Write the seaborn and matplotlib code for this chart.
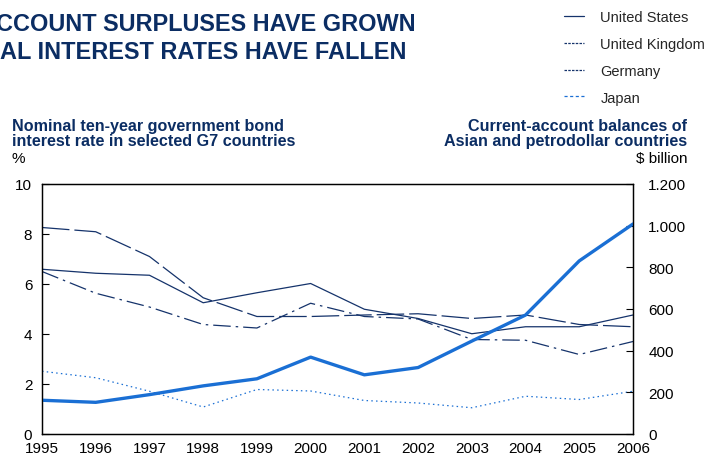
import matplotlib
matplotlib.use("Agg")
import matplotlib.pyplot as plt
import seaborn as sns
import pandas as pd
from matplotlib.lines import Line2D

years = list(range(1995, 2007))
us = [6.59, 6.43, 6.35, 5.25, 5.65, 6.02, 4.99, 4.62, 4.01, 4.29, 4.29, 4.76]
uk = [8.26, 8.09, 7.10, 5.45, 4.70, 4.70, 4.76, 4.81, 4.62, 4.76, 4.38, 4.29]
germany = [6.50, 5.63, 5.08, 4.38, 4.24, 5.23, 4.70, 4.60, 3.78, 3.75, 3.18, 3.70]
japan = [2.51, 2.25, 1.71, 1.08, 1.78, 1.72, 1.34, 1.24, 1.05, 1.51, 1.38, 1.71]
current_account = [162, 152, 189, 231, 265, 369, 284, 319, 446, 571, 831, 1008]

left_ticks = [0, 2, 4, 6, 8, 10]
right_ticks = [0, 200, 400, 600, 800, 1000, 1200]
right_tick_labels = ["0", "200", "400", "600", "800", "1.000", "1.200"]

NAVY = "#15336b"
BLUE = "#1a6fd4"
TITLE = "#0b2d63"

sns.set_theme(style="white")
plt.rcParams["font.family"] = ["Liberation Sans", "DejaVu Sans"]

fig = plt.figure(figsize=(7.13, 4.64), dpi=100)
ax = fig.add_axes([42 / 713, 1 - 435 / 464, (633 - 42) / 713, (435 - 185) / 464])
ax2 = ax.twinx()

series = [
    ("United States", us, NAVY, "-"),
    ("United Kingdom", uk, NAVY, (0, (22, 4))),
    ("Germany", germany, NAVY, (0, (14, 4, 2, 4))),
    ("Japan", japan, BLUE, (0, (1.2, 2.6))),
]
legend_styles = {
    "United States": "-",
    "United Kingdom": (0, (2, 1)),
    "Germany": (0, (2, 1)),
    "Japan": (0, (2.5, 2)),
}
handles = []
for name, vals, col, ls in series:
    df = pd.DataFrame({"year": years, "value": vals})
    sns.lineplot(data=df, x="year", y="value", ax=ax, color=col, linewidth=0.9)
    ax.lines[-1].set_linestyle(ls)
    handles.append(Line2D([], [], color=col, linewidth=0.9,
                          linestyle=legend_styles[name], label=name))

df_ca = pd.DataFrame({"year": years, "value": current_account})
sns.lineplot(data=df_ca, x="year", y="value", ax=ax2, color=BLUE, linewidth=2.4)

ax.set_xlim(1995, 2006)
ax.set_ylim(0, 10)
ax2.set_ylim(0, 1200)
ax.set_xticks(years)
ax.set_xticklabels([str(y) for y in years])
ax.set_yticks(left_ticks)
ax2.set_yticks(right_ticks)
ax2.set_yticklabels(right_tick_labels)
for a in (ax, ax2):
    a.set_xlabel("")
    a.set_ylabel("")
    for s in a.spines.values():
        s.set_color("black")
        s.set_linewidth(0.9)
    a.grid(False)
ax.tick_params(axis="both", direction="in", length=5, width=0.8, labelsize=11, colors="black", pad=5)
ax.tick_params(axis="y", pad=7)
ax2.tick_params(axis="y", direction="in", length=5, width=0.8, labelsize=11, colors="black", pad=11)

# Title (cropped at the left edge in the reference)
fig.text(-4 / 713, 1 - 31 / 464, "CCOUNT SURPLUSES HAVE GROWN", fontsize=16.9,
         fontweight="bold", color=TITLE, ha="left", va="baseline")
fig.text(0 / 713, 1 - 59 / 464, "AL INTEREST RATES HAVE FALLEN", fontsize=16.9,
         fontweight="bold", color=TITLE, ha="left", va="baseline")

fig.text(12 / 713, 1 - 119 / 464, "Nominal ten-year government bond\ninterest rate in selected G7 countries",
         fontsize=11.6, fontweight="bold", color=TITLE, ha="left", va="top", linespacing=1.0)
fig.text(12 / 713, 1 - 152 / 464, "%", fontsize=11, color="black", ha="left", va="top")
fig.text(687 / 713, 1 - 119 / 464, "Current-account balances of\nAsian and petrodollar countries",
         fontsize=11.6, fontweight="bold", color=TITLE, ha="right", va="top", multialignment="right",
         linespacing=1.0)
fig.text(687 / 713, 1 - 152 / 464, "$ billion", fontsize=11, color="black", ha="right", va="top")

fig.legend(handles=handles, loc="upper left", bbox_to_anchor=(564 / 713, 1 - 11 / 464),
           frameon=False, fontsize=10.5, handlelength=1.4, handletextpad=1.1,
           labelspacing=0.88, borderaxespad=0, borderpad=0)

fig.savefig("out.png", dpi=100)
